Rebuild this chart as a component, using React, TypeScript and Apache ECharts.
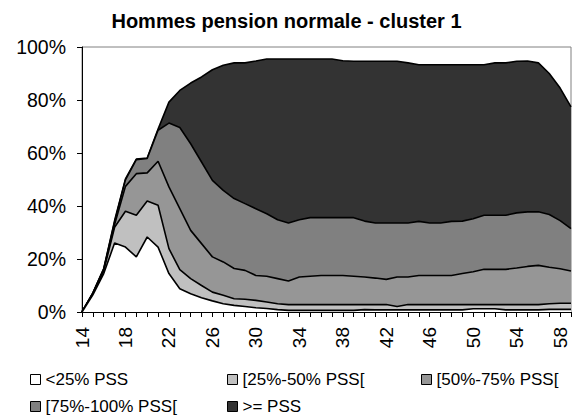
import React, { useEffect, useRef } from "react";
import * as echarts from "echarts";

const ages = [
  "14", "15", "16", "17", "18", "19", "20", "21", "22", "23", "24", "25", "26", "27", "28", "29",
  "30", "31", "32", "33", "34", "35", "36", "37", "38", "39", "40", "41", "42", "43", "44", "45",
  "46", "47", "48", "49", "50", "51", "52", "53", "54", "55", "56", "57", "58", "59",
];

const seriesNames = ["<25% PSS", "[25%-50% PSS[", "[50%-75% PSS[", "[75%-100% PSS[", ">= PSS"];
const fills = ["#ffffff", "#c0c0c0", "#969696", "#808080", "#333333"];

const below25 = [
  0, 6.5, 14.5, 26, 24.5, 20.8, 28.3, 24.5, 14.5, 8.8, 6.9, 5.4, 4.2, 3.1, 2.5, 2.1,
  1.6, 1.3, 0.9, 0.6, 0.6, 0.6, 0.6, 0.6, 0.6, 0.6, 0.9, 0.8, 0.8, 0.8, 0.8, 0.8,
  0.8, 0.8, 0.8, 0.8, 1.2, 1.2, 1.2, 0.8, 0.8, 0.8, 0.8, 1.0, 1.0, 1.0,
];
const from25to50 = [
  0, 0.3, 1.0, 6, 13.5, 15.7, 13.6, 15.8, 9.4, 7.2, 5.7, 4.6, 3.3, 3.2, 2.5, 2.7,
  2.8, 2.5, 2.2, 2.2, 2.2, 2.2, 2.2, 2.2, 2.2, 2.2, 1.9, 2.0, 2.0, 1.3, 2.0, 2.0,
  2.0, 2.0, 2.0, 2.0, 1.6, 1.6, 1.6, 2.0, 2.0, 2.0, 2.0, 2.1, 2.3, 2.3,
];
const from50to75 = [
  0, 0.2, 0.5, 1, 9.4, 15.7, 10.6, 16.6, 23.3, 23, 18.2, 15.8, 13.3, 12.6, 11.4, 10.9,
  9.4, 9.7, 9.5, 8.9, 10.4, 10.7, 11, 11, 11, 10.7, 10.4, 10, 9.5, 11.1, 10.4, 11,
  11, 11, 11, 11.7, 12.4, 13.3, 13.3, 13.3, 13.8, 14.4, 14.8, 13.8, 13, 12.2,
];
const from75to100 = [
  0, 0.1, 0.2, 1, 2.5, 5.3, 5.4, 11.7, 24.1, 30.6, 32.7, 30.8, 28.9, 27, 26.4, 25.2,
  25.2, 23.6, 22.2, 21.9, 21.6, 22.1, 21.8, 21.8, 21.8, 22.1, 21.1, 20.8, 21.3, 20.4, 20.4, 20.4,
  19.8, 19.8, 20.4, 19.8, 20, 20.4, 20.4, 20.4, 20.8, 20.6, 20.2, 19.9, 18.2, 16,
];
const abovePSS = [
  0, 0.1, 0.2, 0.5, 0.3, 0.2, 0.2, 0.4, 7.9, 14, 22.9, 32.1, 41.7, 47.2, 51.2, 53.1,
  55.7, 58.4, 60.7, 61.9, 60.7, 59.9, 59.9, 59.9, 59.2, 59, 60.3, 61, 61, 61, 60.4, 59.1,
  59.7, 59.7, 59.1, 59, 58.1, 56.8, 57.5, 57.5, 57.2, 56.9, 56.2, 53.2, 50, 45.9,
];

const yTicks = [0, 20, 40, 60, 80, 100];

const values = [below25, from25to50, from50to75, from75to100, abovePSS];

const FONT = "'Liberation Sans', Arial, sans-serif";

export default function App() {
  const ref = useRef<HTMLDivElement>(null);
  useEffect(() => {
    if (!ref.current) return;
    const chart = echarts.init(ref.current, undefined, { renderer: "svg" });
    const legendItem = (i: number) => ({
      name: seriesNames[i],
      itemStyle: { color: fills[i], borderColor: "#000", borderWidth: 1 },
    });
    const legendCommon = {
      orient: "vertical" as const,
      icon: "rect",
      itemWidth: 10,
      itemHeight: 10,
      itemGap: 10,
      padding: 0,
      top: 371,
      selectedMode: false,
      textStyle: { fontFamily: FONT, fontSize: 17, color: "#000" },
    };
    chart.setOption({
      animation: false,
      backgroundColor: "#ffffff",
      title: {
        text: "Hommes pension normale - cluster 1",
        left: "center",
        top: 6,
        textStyle: { fontFamily: FONT, fontSize: 20, fontWeight: "bold", color: "#000" },
      },
      legend: [
        { ...legendCommon, left: 30, data: [legendItem(0), legendItem(3)] },
        { ...legendCommon, left: 227, data: [legendItem(1), legendItem(4)] },
        { ...legendCommon, left: 421, data: [legendItem(2)] },
      ],
      grid: {
        left: 82,
        right: 2,
        top: 47,
        bottom: 103,
        show: true,
        borderColor: "#808080",
        borderWidth: 1,
        backgroundColor: "transparent",
      },
      xAxis: {
        type: "category",
        data: ages,
        boundaryGap: false,
        z: 10,
        axisLine: { lineStyle: { color: "#000", width: 1 } },
        axisTick: { show: true, interval: 0, length: 5, inside: false, lineStyle: { color: "#000" } },
        axisLabel: {
          interval: 3,
          rotate: 90,
          margin: 15,
          fontFamily: FONT,
          fontSize: 19,
          color: "#000",
        },
        splitLine: { show: false },
      },
      yAxis: {
        type: "value",
        min: yTicks[0],
        max: yTicks[yTicks.length - 1],
        interval: 20,
        z: 10,
        axisLine: { show: true, lineStyle: { color: "#000", width: 1 } },
        axisTick: { show: true, length: 5, lineStyle: { color: "#000" } },
        axisLabel: {
          formatter: "{value}%",
          margin: 16,
          fontFamily: FONT,
          fontSize: 19.5,
          color: "#000",
        },
        splitLine: { show: false },
      },
      series: values.map((v, i) => ({
        name: seriesNames[i],
        type: "line",
        stack: "total",
        data: v,
        symbol: "none",
        z: 8 - i,
        lineStyle: { color: "#000", width: 1.6 },
        itemStyle: { color: fills[i], borderColor: "#000" },
        areaStyle: { color: fills[i], opacity: 1 },
      })),
    });
    return () => chart.dispose();
  }, []);
  return <div ref={ref} style={{ width: 573, height: 415, position: "absolute", left: 0, top: 0 }} />;
}
